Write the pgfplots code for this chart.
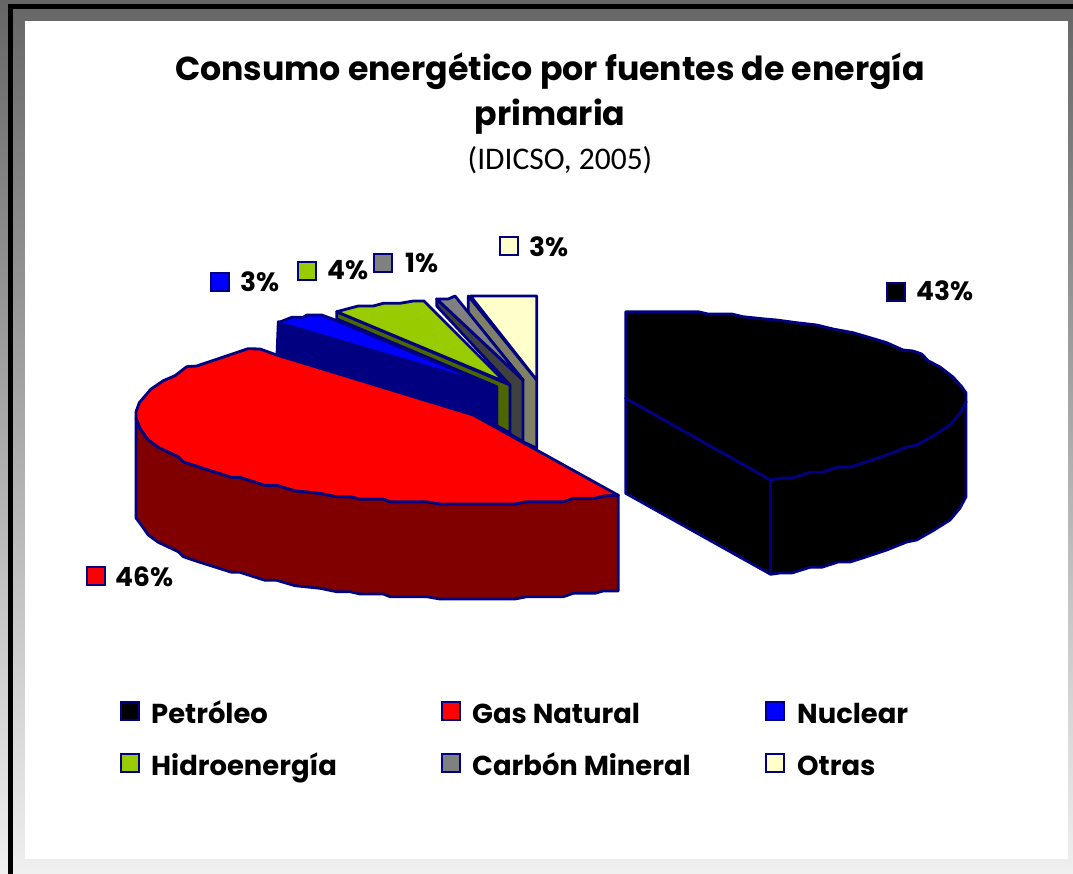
\documentclass[border=0pt]{standalone}
\usepackage{pgfplots}
\usepackage{fontspec}
\pgfplotsset{compat=1.18}
\setmainfont{Poppins}
\newfontfamily\subfont{Carlito}
\definecolor{edge}{HTML}{000080}
\definecolor{cBlack}{HTML}{000000}
\definecolor{cRed}{HTML}{FF0000}
\definecolor{cRedW}{HTML}{800000}
\definecolor{cBlue}{HTML}{0000FF}
\definecolor{cGreen}{HTML}{99CC00}
\definecolor{cGreenW}{HTML}{4D6600}
\definecolor{cGray}{HTML}{808080}
\definecolor{cGrayW}{HTML}{404040}
\definecolor{cCream}{HTML}{FFFFCC}
\definecolor{cCreamW}{HTML}{808066}
\pgfplotsset{
  slice/.style={fill=#1,draw=edge,line width=2.8pt,line join=round,no markers},
  key/.style={only marks,mark=square*,mark size=8.8pt,mark options={fill=#1,draw=edge,line width=2.2pt}},
}
\newcommand{\lab}[3]{\node[anchor=base west,inner sep=0pt,font=\fontsize{26.5}{26.5}\selectfont\bfseries] at (axis cs:#1,#2) {#3};}
\newcommand{\leg}[3]{\node[anchor=base west,inner sep=0pt,font=\fontsize{27.4}{27.4}\selectfont\bfseries] at (axis cs:#1,#2) {#3};}
\begin{document}
\begin{tikzpicture}
\begin{axis}[scale only axis,width=1073pt,height=874pt,xmin=0,xmax=1073,ymin=0,ymax=874,y dir=reverse,hide axis,clip=false]
% frame
\shade[top color=black!60,bottom color=black!6] (axis cs:0,0) rectangle (axis cs:1073,874);
\fill[black] (axis cs:8,4) rectangle (axis cs:1073,9);
\fill[black] (axis cs:8,4) rectangle (axis cs:13,874);
\fill[white] (axis cs:25,21) rectangle (axis cs:1068,859);
% Otras
\addplot[slice=cCreamW] coordinates {(468.3,296)(468.3,313)(523,380)(515,385)(515,438)(536.7,448.3)(536.7,380)} -- cycle;
\addplot[slice=cCream] coordinates {(470.5,296)(536.7,296)(536.7,380)} -- cycle;
% Carbon mineral
\addplot[slice=cGrayW] coordinates {(436.7,299)(436.7,306)(510,385)(503,387)(503,430)(523,441.7)(523,380)} -- cycle;
\addplot[slice=cGray] coordinates {(436.7,299)(448.3,299)(455,296)(523,380)} -- cycle;
% Hidroenergia
\addplot[slice=cGreenW] coordinates {(336.7,311.7)(336.7,319)(496.7,386.7)(496.7,425.7)(510,433)(510,385)} -- cycle;
\addplot[slice=cGreen] coordinates {(336.7,311.7)(358.3,306)(373.3,306)(383.3,303.3)(400,303.3)(413.3,301)(424,301)(505,382)} -- cycle;
% Nuclear
\addplot[slice=edge] coordinates {(278.3,321.7)(466.7,378.3)(496.7,386.7)(496.7,426.7)(473,415)(277,355)} -- cycle;
\addplot[slice=cBlue] coordinates {(278.3,322.7)(291.7,317.3)(303.3,317.3)(306.7,315)(321.7,315)(333.3,319.3)(490,385)} -- cycle;
% Gas natural
\addplot[slice=cRedW] coordinates {(136,418)(140,428.3)(148.3,440)(158.3,447.3)(178.3,456.7)(183.3,461.7)(200,467.3)(231.7,477.3)(240,477.3)(265,485.3)(276.7,485.3)(295,490.7)(320,493.3)(336.7,496.7)(350,496.7)(360,499)(383.3,499)(390,501.7)(426.7,501.7)(440,504)(515,504)(526.7,501.7)(563.3,501.7)(573.3,498.3)(595,498.3)(603,496)(618.3,495.3)
 (618.3,591)(603,591)(595,593.3)(573.3,593.3)(563.3,596.7)(526.7,596.7)(515,599)(440,599)(426.7,596.7)(390,596.7)(383.3,594)(360,594)(350,591.7)(336.7,591.7)(320,588.3)(295,585.7)(276.7,580.3)(265,580.3)(240,572.3)(231.7,572.3)(200,562.3)(183.3,556.7)(178.3,551.7)(158.3,542.3)(148.3,535)(140,523.3)(136,518)} -- cycle;
\addplot[slice=cRed] coordinates {(276.7,355)(260,349)(248,348.7)(196.7,366)(186.7,366.7)(175,375.7)(163.3,380.7)(150.7,389.3)(139.3,402.7)(136,411.7)(136,418)(140,428.3)(148.3,440)(158.3,447.3)(178.3,456.7)(183.3,461.7)(200,467.3)(231.7,477.3)(240,477.3)(265,485.3)(276.7,485.3)(295,490.7)(320,493.3)(336.7,496.7)(350,496.7)(360,499)(383.3,499)(390,501.7)(426.7,501.7)(440,504)(515,504)(526.7,501.7)(563.3,501.7)(573.3,498.3)(595,498.3)(603,496)(618.3,495.3)(473.3,415)} -- cycle;
% Petroleo
\addplot[slice=cBlack] coordinates {(625.7,398.3)(625.7,493.3)(770.7,574.3)(780,573)(791.7,573)(810,567.3)(821.7,567.3)(838,562)(850,562)(866.7,556.7)(886.7,550)(906.7,542)(916.7,540)(933,530.7)(950,520)(960,508)(966,496.7)(966,401.7)(960,413)(950,425)(933,435.7)(916.7,445)(906.7,447)(886.7,455)(866.7,461.7)(850,467)(838,467)(821.7,472.3)(810,472.3)(791.7,478)(780,478)(770.7,480)} -- cycle;
\addplot[slice=cBlack] coordinates {(625.7,311.7)(698,311.7)(708,314)(731.7,314)(743,316.7)(765,319)(776.7,320)(796.7,322.7)(816.7,325)(833,329)(853,332.7)(866.7,336.7)(886.7,342.7)(903,350)(913,351)(921.7,354)(928,360.7)(940,367)(953,377)(961.7,386.7)(966,393)(966,401.7)(960,413)(950,425)(933,435.7)(916.7,445)(906.7,447)(886.7,455)(866.7,461.7)(850,467)(838,467)(821.7,472.3)(810,472.3)(791.7,478)(780,478)(770.7,480)(625.7,398.3)} -- cycle;
\addplot[draw=edge,line width=2.8pt,no markers] coordinates {(770.7,480)(770.7,574.3)};
% data label keys
\addplot[key=cBlack] coordinates {(896,292)};
\addplot[key=cRed] coordinates {(96,576)};
\addplot[key=cBlue] coordinates {(220,282)};
\addplot[key=cGreen] coordinates {(307,271)};
\addplot[key=cGray] coordinates {(383,263)};
\addplot[key=cCream] coordinates {(509,246)};
\lab{916}{301}{43\%}
\lab{115}{586}{46\%}
\lab{240}{292}{3\%}
\lab{327}{280}{4\%}
\lab{405}{273}{1\%}
\lab{529}{257}{3\%}
% legend
\addplot[key=cBlack] coordinates {(130,711)};
\addplot[key=cRed] coordinates {(451,711)};
\addplot[key=cBlue] coordinates {(775,711)};
\addplot[key=cGreen] coordinates {(130,763)};
\addplot[key=cGray] coordinates {(451,763)};
\addplot[key=cCream] coordinates {(775,763)};
\leg{151}{723}{Petróleo}
\leg{472}{723}{Gas Natural}
\leg{797}{723}{Nuclear}
\leg{151}{775}{Hidroenergía}
\leg{472}{775}{Carbón Mineral}
\leg{797}{775}{Otras}
% title
\node[anchor=base,inner sep=0pt,font=\fontsize{33.2}{33.2}\selectfont\bfseries] at (axis cs:550,81) {Consumo energético por fuentes de energía};
\node[anchor=base,inner sep=0pt,font=\fontsize{33.2}{33.2}\selectfont\bfseries] at (axis cs:550,126) {primaria};
\node[anchor=base,inner sep=0pt,font=\subfont\fontsize{31.5}{31.5}\selectfont] at (axis cs:560,170) {(IDICSO, 2005)};
\end{axis}
\end{tikzpicture}
\end{document}
